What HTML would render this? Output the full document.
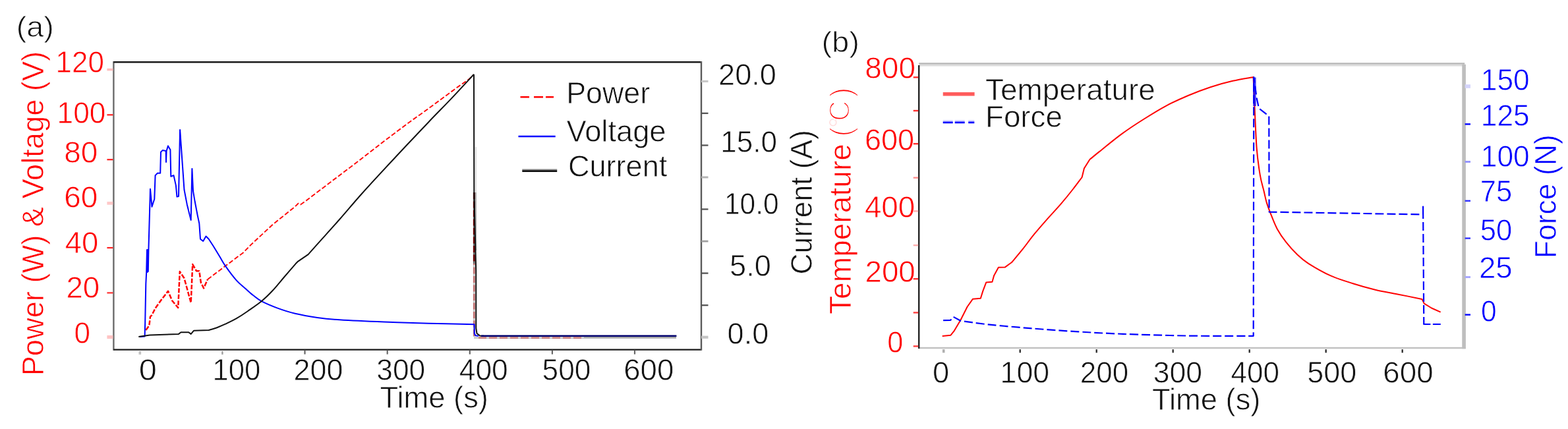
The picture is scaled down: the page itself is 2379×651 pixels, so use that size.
<!DOCTYPE html>
<html lang="en">
<head>
<meta charset="utf-8">
<title>Figure: power, voltage, current, temperature and force vs time</title>
<style>
html,body{margin:0;padding:0;background:#fff;}
body{width:2379px;height:651px;overflow:hidden;}
svg{display:block;}
.t{font-family:"Liberation Sans",sans-serif;font-size:49px;stroke:#fff;stroke-width:0.8px;stroke-linejoin:round;}
</style>
</head>
<body>
<svg width="2379" height="651" viewBox="0 0 2379 651">
<rect x="0" y="0" width="2379" height="651" fill="#ffffff"/>
<g id="labels">
<text transform="translate(24.80,55.80) scale(0.9524,0.9100)" fill="#111111" class="t" style="stroke-width:1.0px">(a)</text>
<text transform="translate(84.48,110.12) scale(0.8979,0.9400)" fill="#ff0000" class="t">120</text>
<text transform="translate(86.58,187.16) scale(0.9031,0.9400)" fill="#ff0000" class="t">100</text>
<text transform="translate(97.24,246.80) scale(0.9357,0.9400)" fill="#ff0000" class="t">80</text>
<text transform="translate(97.24,315.04) scale(0.9367,0.9400)" fill="#ff0000" class="t">60</text>
<text transform="translate(98.66,383.68) scale(0.9265,0.9400)" fill="#ff0000" class="t">40</text>
<text transform="translate(100.40,452.06) scale(0.9334,0.9400)" fill="#ff0000" class="t">20</text>
<text transform="translate(112.44,520.52) scale(0.8991,0.9400)" fill="#ff0000" class="t">0</text>
<text transform="translate(210.72,577.04) scale(0.9950,0.9400)" fill="#111111" class="t">0</text>
<text transform="translate(322.50,577.04) scale(0.8904,0.9400)" fill="#111111" class="t">100</text>
<text transform="translate(445.56,577.04) scale(0.9170,0.9400)" fill="#111111" class="t">200</text>
<text transform="translate(571.30,577.04) scale(0.9041,0.9400)" fill="#111111" class="t">300</text>
<text transform="translate(696.72,577.04) scale(0.9054,0.9400)" fill="#111111" class="t">400</text>
<text transform="translate(822.62,577.04) scale(0.9019,0.9400)" fill="#111111" class="t">500</text>
<text transform="translate(946.16,577.04) scale(0.9311,0.9400)" fill="#111111" class="t">600</text>
<text transform="translate(576.56,619.20) scale(0.9247,0.9400)" fill="#111111" class="t">Time (s)</text>
<text transform="translate(1090.12,128.50) scale(0.9204,0.9400)" fill="#111111" class="t">20.0</text>
<text transform="translate(1093.28,231.18) scale(0.8987,0.9400)" fill="#111111" class="t">15.0</text>
<text transform="translate(1098.88,325.40) scale(0.8674,0.9400)" fill="#111111" class="t">10.0</text>
<text transform="translate(1107.12,419.20) scale(0.9214,0.9400)" fill="#111111" class="t">5.0</text>
<text transform="translate(1103.62,521.56) scale(0.9180,0.9400)" fill="#111111" class="t">0.0</text>
<text transform="translate(1231.90,416.40) rotate(-90) scale(0.9047,0.9400)" fill="#111111" class="t">Current (A)</text>
<text transform="translate(65.80,570.28) rotate(-90) scale(0.9229,0.9400)" fill="#ff0000" class="t">Power (W) &amp; Voltage (V)</text>
<text transform="translate(859.14,157.40) scale(0.9143,0.9500)" fill="#111111" class="t">Power</text>
<text transform="translate(859.44,214.50) scale(0.9245,0.9500)" fill="#111111" class="t">Voltage</text>
<text transform="translate(861.92,268.40) scale(0.9208,0.9500)" fill="#111111" class="t">Current</text>
<text transform="translate(1246.38,79.40) scale(0.9617,0.9100)" fill="#111111" class="t" style="stroke-width:1.0px">(b)</text>
<text transform="translate(1312.34,118.94) scale(0.9369,0.9400)" fill="#ff0000" class="t">800</text>
<text transform="translate(1311.94,228.40) scale(0.9204,0.9400)" fill="#ff0000" class="t">600</text>
<text transform="translate(1311.92,330.32) scale(0.9343,0.9400)" fill="#ff0000" class="t">400</text>
<text transform="translate(1312.50,428.00) scale(0.9333,0.9400)" fill="#ff0000" class="t">200</text>
<text transform="translate(1346.36,534.86) scale(0.8850,0.9400)" fill="#ff0000" class="t">0</text>
<text transform="translate(1414.94,581.02) scale(0.9243,0.9400)" fill="#111111" class="t">0</text>
<text transform="translate(1517.56,581.02) scale(0.9116,0.9400)" fill="#111111" class="t">100</text>
<text transform="translate(1638.84,581.02) scale(0.8962,0.9400)" fill="#111111" class="t">200</text>
<text transform="translate(1749.84,580.62) scale(0.9088,0.9400)" fill="#111111" class="t">300</text>
<text transform="translate(1867.44,580.62) scale(0.9012,0.9400)" fill="#111111" class="t">400</text>
<text transform="translate(1983.32,581.02) scale(0.9168,0.9400)" fill="#111111" class="t">500</text>
<text transform="translate(2098.30,581.02) scale(0.9348,0.9400)" fill="#111111" class="t">600</text>
<text transform="translate(1747.88,621.50) scale(0.9256,0.9400)" fill="#111111" class="t">Time (s)</text>
<text transform="translate(2246.80,136.78) scale(0.9040,0.9400)" fill="#0000ff" class="t">150</text>
<text transform="translate(2246.80,191.24) scale(0.9039,0.9400)" fill="#0000ff" class="t">125</text>
<text transform="translate(2246.80,252.60) scale(0.9040,0.9400)" fill="#0000ff" class="t">100</text>
<text transform="translate(2245.74,305.62) scale(0.8911,0.9400)" fill="#0000ff" class="t">75</text>
<text transform="translate(2245.74,365.30) scale(0.8900,0.9400)" fill="#0000ff" class="t">50</text>
<text transform="translate(2243.88,422.22) scale(0.9318,0.9400)" fill="#0000ff" class="t">25</text>
<text transform="translate(2246.94,487.54) scale(0.8683,0.9400)" fill="#0000ff" class="t">0</text>
<text transform="translate(2361.00,392.32) rotate(-90) scale(0.9092,0.9400)" fill="#0000ff" class="t">Force (N)</text>
<text transform="translate(1495.12,151.60) scale(0.9367,0.9500)" fill="#111111" class="t">Temperature</text>
<text transform="translate(1494.92,193.20) scale(0.9341,0.9500)" fill="#111111" class="t">Force</text>
<text transform="translate(1290.70,476.96) rotate(-90) scale(0.9412,0.9500)" fill="#ff0000" class="t">Temperature <tspan x="286.09" y="0.99" font-size="49.0" style="stroke-width:2.3px">(</tspan><tspan x="300.00" y="-1.77" font-size="46.4" fill-opacity="0.13" style="stroke-width:0.6px">°</tspan><tspan x="311.35" y="-1.77" font-size="46.4" style="stroke-width:2.5px">C</tspan><tspan x="349.71" y="0.99" font-size="49.0" style="stroke-width:2.3px">)</tspan></text>
</g>
<g id="plot-a">
<line x1="172.4" y1="93.0" x2="172.4" y2="531.8000000000001" stroke="#6a6a6a" stroke-width="2.4"/>
<line x1="172.4" y1="94.2" x2="1064.0" y2="94.2" stroke="#1a1a1a" stroke-width="2.4"/>
<line x1="172.4" y1="530.6" x2="1064.0" y2="530.6" stroke="#1a1a1a" stroke-width="2.4"/>
<line x1="1064.0" y1="93.0" x2="1064.0" y2="531.8000000000001" stroke="#5a5a5a" stroke-width="2.4"/>
<line x1="162.4" y1="511.5" x2="171.4" y2="511.5" stroke="#ffc4c4" stroke-width="5.2"/>
<line x1="162.4" y1="444.4" x2="171.4" y2="444.4" stroke="#ff3030" stroke-width="2.2"/>
<line x1="162.4" y1="376.0" x2="171.4" y2="376.0" stroke="#ff2020" stroke-width="2.2"/>
<line x1="162.4" y1="308.4" x2="171.4" y2="308.4" stroke="#ffc8c8" stroke-width="4.6"/>
<line x1="162.4" y1="242.2" x2="171.4" y2="242.2" stroke="#ff2020" stroke-width="2.2"/>
<line x1="162.4" y1="174.3" x2="171.4" y2="174.3" stroke="#ff2020" stroke-width="2.2"/>
<line x1="162.4" y1="105.6" x2="171.4" y2="105.6" stroke="#ffc0c0" stroke-width="3.6"/>
<line x1="212.3" y1="533.0" x2="212.3" y2="538.0" stroke="#c4c4c4" stroke-width="3.6"/>
<line x1="337.4" y1="533.0" x2="337.4" y2="538.0" stroke="#a0a0a0" stroke-width="2.4"/>
<line x1="462.5" y1="531.6" x2="462.5" y2="537.6" stroke="#666666" stroke-width="2.2"/>
<line x1="587.7" y1="531.6" x2="587.7" y2="537.6" stroke="#666666" stroke-width="2.2"/>
<line x1="712.8" y1="531.6" x2="712.8" y2="537.6" stroke="#666666" stroke-width="2.2"/>
<line x1="837.9" y1="531.6" x2="837.9" y2="537.6" stroke="#666666" stroke-width="2.2"/>
<line x1="963.0" y1="531.6" x2="963.0" y2="537.6" stroke="#666666" stroke-width="2.2"/>
<line x1="1064.0" y1="511.7" x2="1074.5" y2="511.7" stroke="#c4c4c4" stroke-width="4.2"/>
<line x1="1064.0" y1="463.2" x2="1074.5" y2="463.2" stroke="#555555" stroke-width="2.3"/>
<line x1="1064.0" y1="414.6" x2="1074.5" y2="414.6" stroke="#555555" stroke-width="2.3"/>
<line x1="1064.0" y1="366.1" x2="1074.5" y2="366.1" stroke="#a0a0a0" stroke-width="2.8"/>
<line x1="1064.0" y1="317.5" x2="1074.5" y2="317.5" stroke="#555555" stroke-width="2.3"/>
<line x1="1064.0" y1="269.0" x2="1074.5" y2="269.0" stroke="#b4b4b4" stroke-width="3.0"/>
<line x1="1064.0" y1="220.5" x2="1074.5" y2="220.5" stroke="#555555" stroke-width="2.3"/>
<line x1="1064.0" y1="171.9" x2="1074.5" y2="171.9" stroke="#555555" stroke-width="2.3"/>
<line x1="1064.0" y1="123.4" x2="1074.5" y2="123.4" stroke="#c8c8c8" stroke-width="3.2"/>
<line x1="789.5" y1="147.2" x2="840" y2="147.2" stroke="#ff0000" stroke-width="2.5" stroke-dasharray="13.5,7,14,4,12,9"/>
<line x1="786.5" y1="206.9" x2="842.7" y2="206.9" stroke="#0000ff" stroke-width="2.5"/>
<line x1="792.3" y1="257.4" x2="845.2" y2="257.4" stroke="#8c8c8c" stroke-width="2"/>
<line x1="792.3" y1="259.6" x2="845.2" y2="259.6" stroke="#101010" stroke-width="2.6"/>
<polyline points="221.3,501.0 226.3,494.2 228.0,480.7 230.5,478.0 235.6,467.8 244.0,456.0 255.0,441.7 261.0,456.0 270.2,467.0 272.8,412.1 279.5,422.2 289.7,459.4 292.2,401.1 298.1,411.3 302.3,411.3 304.9,429.0 309.1,437.4 315.0,423.9" fill="none" stroke="#ff0000" stroke-width="2.5" stroke-dasharray="7,2.4" stroke-linejoin="round"/>
<polyline points="315.0,423.9 342.0,403.6 369.0,383.4 380.0,372.1 413.8,340.7 447.6,313.6 452.6,308.6 456.0,310.5 464.5,304.4 548.6,240.8 587.0,211.0 620.0,186.2 644.5,168.8 695.1,131.6 712.0,119.8 718.0,114.0" fill="none" stroke="#ff0000" stroke-width="1.9" stroke-dasharray="7,3.2" stroke-linejoin="round"/>
<line x1="721.9" y1="223" x2="721.9" y2="292" stroke="#e2e2e2" stroke-width="2.6"/>
<line x1="721.9" y1="292" x2="721.9" y2="380" stroke="#b8b8b8" stroke-width="2.6"/>
<line x1="719.3" y1="292" x2="719.3" y2="400" stroke="#6a6a6a" stroke-width="2.8"/>
<line x1="719.3" y1="400" x2="719.3" y2="511" stroke="#c8c8c8" stroke-width="2.8"/>
<line x1="719.3" y1="292" x2="719.3" y2="400" stroke="#6a0000" stroke-width="2.8" stroke-dasharray="10,3.5"/>
<line x1="719.3" y1="400" x2="719.3" y2="511" stroke="#c47474" stroke-width="2.8" stroke-dasharray="10,3.5" stroke-dashoffset="8"/>
<line x1="719" y1="512.6" x2="886" y2="512.6" stroke="#c8c8c8" stroke-width="2.6"/>
<line x1="726" y1="512.6" x2="886" y2="512.6" stroke="#c98080" stroke-width="2.6" stroke-dasharray="12,4"/>
<line x1="886" y1="512.4" x2="1026" y2="512.4" stroke="#9a9a9a" stroke-width="2.2"/>
<path d="M212.0,511.0 L219.6,510.5 220.2,489.8 221.3,430.7 222.2,413.0 223.0,379.0 223.6,413.0 224.4,379.0 224.8,412.0 225.4,380.0 226.3,347.6 228.0,286.8 230.5,313.8 234.3,302.0 235.6,266.1 239.0,262.8 243.2,262.8 244.0,230.7 246.6,228.1 251.7,229.0 252.0,245.9 252.6,229.0 255.0,221.4 258.4,227.3 259.3,267.8 263.5,266.1 266.9,281.4 268.5,298.6 271.0,298.0 273.1,196.9 279.5,288.0 283.8,310.4 289.7,334.0 291.4,256.0 293.0,289.8 295.6,305.3 299.8,327.3 302.3,339.0 304.0,362.8 308.2,366.0 312.5,358.5 316.7,362.8 323.4,373.0 C325.1,375.8 330.5,384.7 333.6,389.8 C336.7,394.9 337.8,397.6 342.0,403.6 C346.2,409.6 353.8,419.9 358.9,425.6 C364.0,431.3 368.2,434.1 372.4,437.9 C376.6,441.7 380.2,445.1 384.3,448.3 C388.4,451.5 390.9,454.0 396.9,457.2 C402.9,460.4 412.1,464.3 420.5,467.4 C428.9,470.5 437.5,473.4 447.6,475.8 C457.8,478.2 470.1,480.3 481.4,481.9 C492.6,483.5 498.2,484.2 515.1,485.3 C532.0,486.4 560.2,487.7 582.7,488.6 C605.2,489.5 627.5,490.1 650.3,490.7 C673.1,491.3 708.0,491.9 719.6,492.2 L719.8,506.0 721.5,509.3 726.0,509.8" fill="none" stroke="#0000ff" stroke-width="2" stroke-linejoin="round"/>
<path d="M210.3,510.9 L227.2,508.5 271.0,506.9 274.5,504.3 286.3,504.3 289.7,506.9 293.9,501.8 316.7,501.0 C318.9,500.3 326.0,498.2 330.2,496.7 C334.4,495.1 337.2,493.9 342.0,491.7 C346.8,489.4 353.3,486.4 358.9,483.2 C364.5,479.9 369.5,476.6 375.8,472.2 C382.1,467.8 390.6,462.2 396.9,457.0 C403.2,451.8 408.2,446.8 413.8,440.8 C419.4,434.8 424.9,427.8 430.7,421.0 C436.5,414.2 445.5,403.8 448.5,400.3 L451.5,397.2 467.6,386.2 C469.9,383.6 473.5,379.5 481.4,370.6 C489.3,361.7 503.9,345.8 515.1,333.0 C526.4,320.2 534.8,309.8 548.9,294.0 C563.0,278.2 583.1,256.6 600.0,238.5 C616.9,220.4 636.3,199.9 650.3,185.2 C664.3,170.5 672.6,162.4 684.0,150.4 C695.4,138.4 712.8,119.4 718.6,113.2 L719.0,113.6 719.3,292.0 722.2,410.0 722.3,498.0 723.5,506.0 728.0,509.4 734.0,509.8" fill="none" stroke="#111111" stroke-width="2" stroke-linejoin="round"/>
<line x1="730" y1="509.8" x2="1026.4" y2="509.8" stroke="#00006c" stroke-width="2.6"/>
</g>
<g id="plot-b">
<line x1="1394.2" y1="96.5" x2="2222.2" y2="96.5" stroke="#b6b6b6" stroke-width="2.6"/>
<line x1="1394.2" y1="99.2" x2="2219.2" y2="99.2" stroke="#dcdcdc" stroke-width="2.8"/>
<line x1="1394.2" y1="528.1" x2="2223.7" y2="528.1" stroke="#c2c2c2" stroke-width="2.5"/>
<line x1="2221.1" y1="97.7" x2="2221.1" y2="529.3" stroke="#bebebe" stroke-width="5.6"/>
<line x1="1394.2" y1="99.0" x2="1394.2" y2="529.0" stroke="#222" stroke-width="2.4"/>
<line x1="1385.7" y1="525.4" x2="1393.2" y2="525.4" stroke="#ff4040" stroke-width="2.4"/>
<line x1="1385.7" y1="474.4" x2="1393.2" y2="474.4" stroke="#ff4040" stroke-width="2.4"/>
<line x1="1385.7" y1="423.2" x2="1393.2" y2="423.2" stroke="#ff3030" stroke-width="2.4"/>
<line x1="1385.7" y1="372.2" x2="1393.2" y2="372.2" stroke="#ffb0b0" stroke-width="2.4"/>
<line x1="1385.7" y1="320.4" x2="1393.2" y2="320.4" stroke="#ffb0b0" stroke-width="2.4"/>
<line x1="1385.7" y1="269.7" x2="1393.2" y2="269.7" stroke="#ff9090" stroke-width="2.4"/>
<line x1="1385.7" y1="218.2" x2="1393.2" y2="218.2" stroke="#ff3030" stroke-width="2.4"/>
<line x1="1385.7" y1="168.0" x2="1393.2" y2="168.0" stroke="#ff3030" stroke-width="2.4"/>
<line x1="1385.7" y1="117.3" x2="1393.2" y2="117.3" stroke="#ff3030" stroke-width="2.4"/>
<line x1="1431.7" y1="530.2" x2="1431.7" y2="535.3" stroke="#b0b0b0" stroke-width="3.6"/>
<line x1="1547.7" y1="530.2" x2="1547.7" y2="535.3" stroke="#2a2a2a" stroke-width="2.3"/>
<line x1="1663.7" y1="530.2" x2="1663.7" y2="535.3" stroke="#2a2a2a" stroke-width="2.3"/>
<line x1="1779.7" y1="530.2" x2="1779.7" y2="535.3" stroke="#2a2a2a" stroke-width="2.3"/>
<line x1="1895.7" y1="530.2" x2="1895.7" y2="535.3" stroke="#2a2a2a" stroke-width="2.3"/>
<line x1="2011.7" y1="530.2" x2="2011.7" y2="535.3" stroke="#2a2a2a" stroke-width="2.3"/>
<line x1="2127.7" y1="530.2" x2="2127.7" y2="535.3" stroke="#2a2a2a" stroke-width="2.3"/>
<line x1="2222.7" y1="477.6" x2="2231.0" y2="477.6" stroke="#0000ff" stroke-width="2.4"/>
<line x1="2222.7" y1="420.5" x2="2231.0" y2="420.5" stroke="#a8a8ff" stroke-width="3.0"/>
<line x1="2222.7" y1="361.6" x2="2231.0" y2="361.6" stroke="#3030ff" stroke-width="2.4"/>
<line x1="2222.7" y1="304.8" x2="2231.0" y2="304.8" stroke="#3030ff" stroke-width="2.4"/>
<line x1="2222.7" y1="245.5" x2="2231.0" y2="245.5" stroke="#9090ff" stroke-width="2.8"/>
<line x1="2222.7" y1="188.4" x2="2231.0" y2="188.4" stroke="#0000ff" stroke-width="2.4"/>
<line x1="2222.7" y1="131.0" x2="2231.0" y2="131.0" stroke="#d4d4fa" stroke-width="5.6"/>
<line x1="1430.7" y1="142.8" x2="1478.6" y2="142.8" stroke="#ff5c5c" stroke-width="5.4"/>
<line x1="1430.7" y1="183.4" x2="1478.3" y2="183.4" stroke="#d4d4ff" stroke-width="2.2" stroke-dasharray="15,3,15,5.5,9.1,100"/>
<line x1="1430.7" y1="185.8" x2="1478.3" y2="185.8" stroke="#0000ff" stroke-width="2.8" stroke-dasharray="15,3,15,5.5,9.1,100"/>
<path d="M1429.7,510.1 L1442.2,508.8 1447.3,502.7 1457.4,485.8 1467.6,465.5 1476.0,453.7 1487.8,452.7 1491.2,441.9 1496.3,428.4 1505.4,427.7 1508.1,418.2 1514.9,405.7 1525.0,405.4 1535.1,398.0 C1537.9,394.6 1546.4,384.8 1552.0,377.7 C1557.6,370.6 1562.7,363.3 1568.9,355.7 C1575.1,348.1 1582.4,339.8 1589.2,332.1 C1596.0,324.4 1603.0,317.1 1609.5,309.6 C1616.0,302.1 1622.7,293.8 1628.0,287.0 C1633.3,280.2 1639.3,272.0 1641.6,269.0 L1644.9,255.5 1653.4,242.0 C1655.8,240.1 1659.6,236.8 1667.6,230.4 C1675.6,224.0 1690.2,211.8 1701.4,203.6 C1712.7,195.4 1723.8,188.1 1735.1,181.0 C1746.3,173.9 1757.6,166.8 1768.9,160.8 C1780.2,154.8 1791.4,149.8 1802.7,145.0 C1814.0,140.2 1825.2,135.9 1836.5,132.2 C1847.8,128.5 1859.5,125.3 1870.3,122.8 C1881.1,120.3 1896.4,118.0 1901.6,117.0 L1903.3,157.6 C1903.9,168.8 1905.3,207.1 1906.7,225.1 C1908.1,243.1 1910.0,254.9 1911.8,265.7 C1913.6,276.5 1915.9,283.0 1917.6,290.0 C1919.3,297.0 1920.2,302.3 1921.9,307.9 C1923.6,313.5 1925.1,317.2 1927.7,323.8 C1930.3,330.4 1933.8,340.1 1937.8,347.4 C1941.8,354.7 1946.3,361.2 1951.4,367.7 C1956.5,374.2 1962.6,380.9 1968.2,386.3 C1973.8,391.7 1976.6,394.5 1985.1,399.8 C1993.5,405.1 2007.6,413.3 2018.9,418.4 C2030.2,423.5 2041.4,426.6 2052.7,430.2 C2064.0,433.8 2075.2,437.0 2086.5,439.7 C2097.8,442.4 2108.5,444.0 2120.3,446.4 C2132.1,448.8 2151.2,452.6 2157.4,453.9 L2160.8,460.6 2172.0,467.5 2185.7,473.6" fill="none" stroke="#ff0000" stroke-width="2" stroke-linejoin="round"/>
<line x1="1903.3" y1="117.5" x2="1903.5" y2="161" stroke="#0000ff" stroke-opacity="0.75" stroke-width="4.6"/>
<path d="M1431.1,486.1 L1442.2,485.8 1446.3,480.7 1457.4,486.8 C1464.7,487.8 1482.8,490.6 1501.4,492.6 C1520.0,494.6 1546.4,496.8 1568.9,498.6 C1591.4,500.4 1614.0,502.0 1636.5,503.4 C1659.0,504.8 1676.8,505.8 1704.0,506.8 C1731.2,507.8 1767.0,509.0 1800.0,509.5 C1833.0,510.0 1884.8,509.8 1901.7,509.8 L1902.3,117.0 1906.7,149.0 1910.0,164.3 1925.3,176.1 1925.6,321.6 2159.1,325.5 2159.1,313.6 2160.3,492.0" fill="none" stroke="#0000ff" stroke-width="2.2" stroke-dasharray="13,5" stroke-linejoin="round"/>
<line x1="2159.4" y1="492" x2="2185.8" y2="492" stroke="#0000ff" stroke-width="2.2" stroke-dasharray="11,3.5,12"/>
</g>
</svg>
</body>
</html>
